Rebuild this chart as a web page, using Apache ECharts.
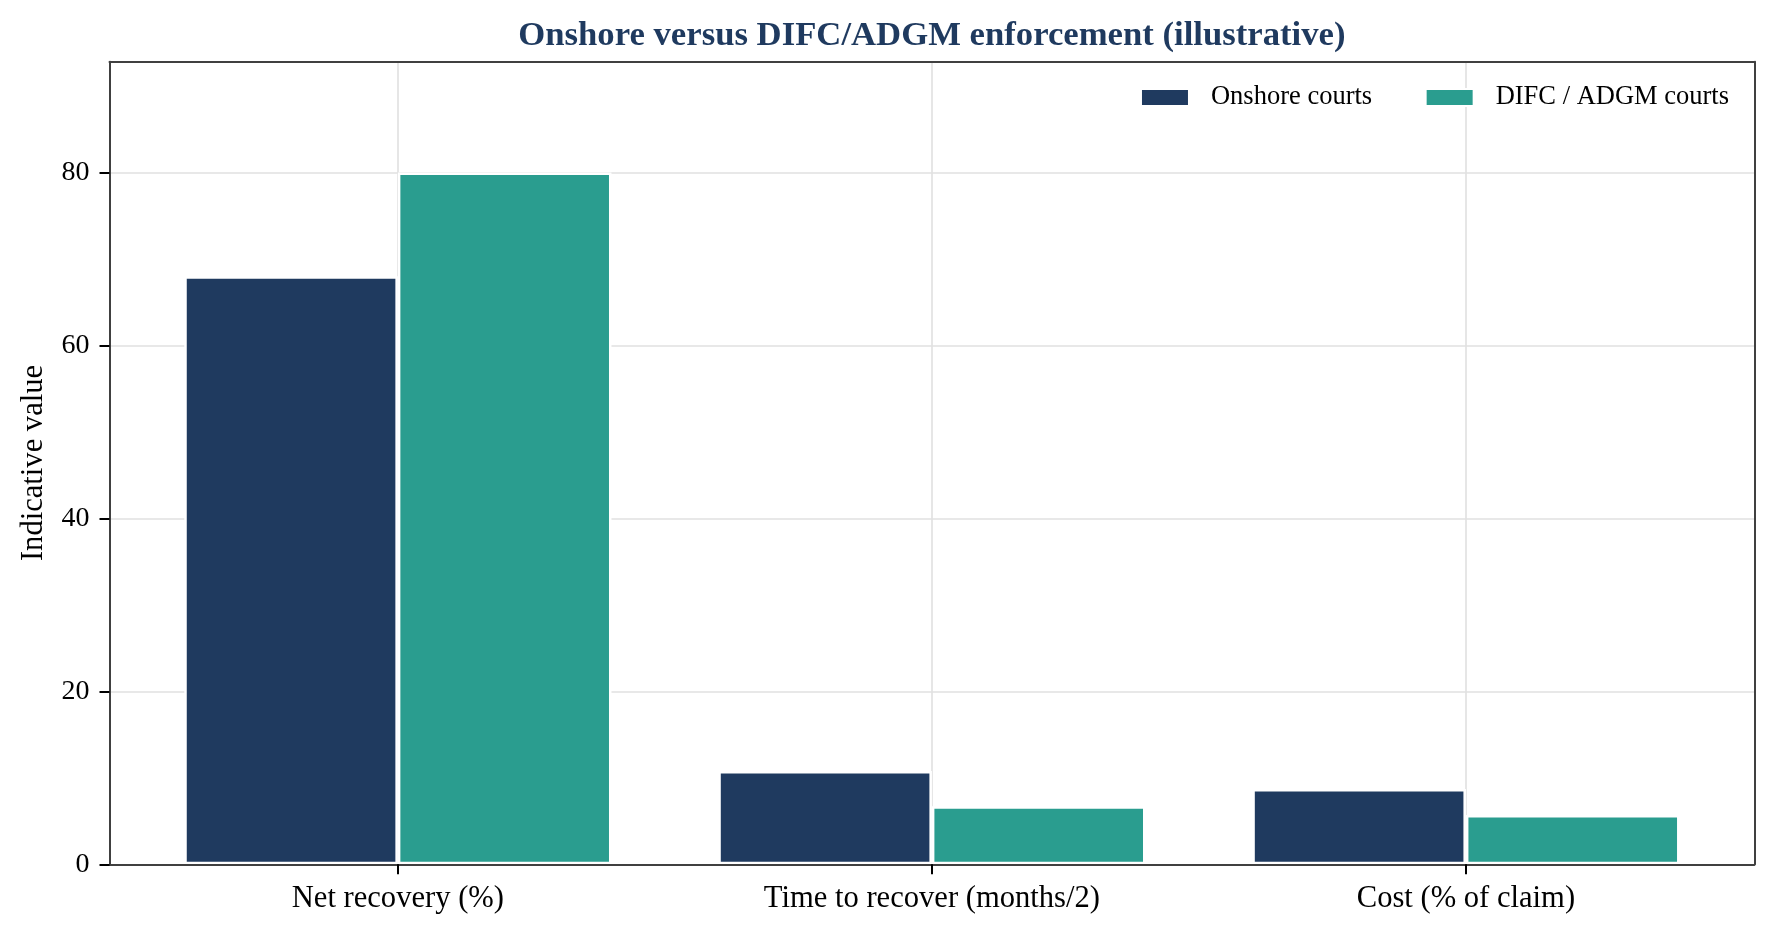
<!DOCTYPE html>
<html>
<head>
<meta charset="utf-8">
<title>Onshore versus DIFC/ADGM enforcement</title>
<script src="https://cdn.jsdelivr.net/npm/echarts@6/dist/echarts.min.js"></script>
<style>
  html, body { margin: 0; padding: 0; background: #fff; }
  #chart { width: 1774px; height: 934px; }
</style>
</head>
<body>
<div id="chart"></div>
<script>
// data
var categories = ['Net recovery (%)', 'Time to recover (months/2)', 'Cost (% of claim)'];
var onshore = [68, 10.8, 8.7];
var difc = [80, 6.7, 5.7];
var seriesNames = ['Onshore courts', 'DIFC / ADGM courts'];
var yMax = 92.8;
var yStep = 20;

var FONT = '"Liberation Serif", "Times New Roman", serif';
var NAVY = '#1f3a5f';
var TEAL = '#2a9d8f';
var FRAME = '#404040';
var TITLE = 'Onshore versus DIFC/ADGM enforcement (illustrative)';
var TITLE_SIZE = 34.7;

// frame grid, and an inner grid for the bars so the outer padding matches (0.54 of a slot)
var frame = {left: 109.5, right: 19.7, top: 61.7, bottom: 69.7};
var slot = (1774 - frame.left - frame.right) / 3.08;
var pad = slot * 0.04;

// title is centred over the plot area, not the page
var ctx = document.createElement('canvas').getContext('2d');
ctx.font = 'bold ' + TITLE_SIZE + 'px ' + FONT;
var titleW = ctx.measureText(TITLE).width;
var plotMid = frame.left + (1774 - frame.left - frame.right) / 2;

// helper slots for vertical gridlines at category centres
var gridSlots = [];
for (var i = 0; i < categories.length * 2 + 1; i++) gridSlots.push(i % 2 ? categories[(i - 1) / 2] : '');

var frameLine = {show: true, onZero: false, lineStyle: {color: FRAME, width: 2}};

var myChart = echarts.init(document.getElementById('chart'));
var option = {
    backgroundColor: '#ffffff',
    animation: false,
    title: {
        text: TITLE,
        left: plotMid - titleW / 2,
        top: 19,
        padding: 0,
        textStyle: {fontFamily: FONT, fontSize: TITLE_SIZE, fontWeight: 'bold', color: NAVY}
    },
    legend: {
        data: seriesNames,
        right: 45,
        top: 84,
        padding: 0,
        itemWidth: 48,
        itemHeight: 17,
        itemGap: 52.5,
        icon: 'rect',
        textStyle: {fontFamily: FONT, fontSize: 26.5, color: '#000', padding: [0, 0, 0, 17]}
    },
    grid: [
        {left: frame.left, right: frame.right, top: frame.top, bottom: frame.bottom},
        {left: frame.left + pad, right: frame.right + pad, top: frame.top, bottom: frame.bottom}
    ],
    xAxis: [
        // bottom frame line
        {gridIndex: 0, type: 'value', min: 0, max: 1, position: 'bottom', z: 10,
         axisLine: frameLine,
         axisTick: {show: false}, axisLabel: {show: false}, splitLine: {show: false}},
        // top frame line
        {gridIndex: 0, type: 'value', min: 0, max: 1, position: 'top', z: 10,
         axisLine: frameLine,
         axisTick: {show: false}, axisLabel: {show: false}, splitLine: {show: false}},
        // categories
        {gridIndex: 1, type: 'category', data: categories, position: 'bottom', z: 10,
         axisLine: {show: false, onZero: false},
         axisTick: {show: true, alignWithLabel: true, length: 10, lineStyle: {color: '#000', width: 2}},
         axisLabel: {fontFamily: FONT, fontSize: 30.6, color: '#000', margin: 19.5},
         splitLine: {show: false}},
        // vertical gridlines
        {gridIndex: 1, type: 'category', data: gridSlots, boundaryGap: false,
         axisLine: {show: false, onZero: false}, axisTick: {show: false}, axisLabel: {show: false},
         splitLine: {show: true, interval: function (idx) { return idx % 2 === 1; },
                     lineStyle: {color: '#e0e0e0', width: 1.6}}}
    ],
    yAxis: [
        // horizontal gridlines (behind bars)
        {gridIndex: 0, type: 'value', min: 0, max: yMax, interval: yStep,
         axisLine: {show: false, onZero: false}, axisTick: {show: false}, axisLabel: {show: false},
         splitLine: {show: true, showMaxLine: false, lineStyle: {color: '#e0e0e0', width: 1.6}}},
        // left axis with labels
        {gridIndex: 0, type: 'value', min: 0, max: yMax, interval: yStep, position: 'left', z: 10,
         name: 'Indicative value', nameLocation: 'middle', nameGap: 60.5,
         nameTextStyle: {fontFamily: FONT, fontSize: 30.6, color: '#000'},
         axisLine: frameLine,
         axisTick: {show: true, length: 10, lineStyle: {color: '#000', width: 2}},
         axisLabel: {fontFamily: FONT, fontSize: 28, color: '#000', margin: 20, showMaxLabel: false},
         splitLine: {show: false}},
        // right frame line
        {gridIndex: 0, type: 'value', min: 0, max: yMax, position: 'right', z: 10,
         axisLine: frameLine,
         axisTick: {show: false}, axisLabel: {show: false}, splitLine: {show: false}},
        // bar axis
        {gridIndex: 1, type: 'value', min: 0, max: yMax, show: false}
    ],
    series: [
        {
            name: seriesNames[0], type: 'bar', data: onshore,
            xAxisIndex: 2, yAxisIndex: 3,
            barWidth: '40%', barGap: '0%',
            itemStyle: {color: NAVY, borderColor: '#ffffff', borderWidth: 2.5}
        },
        {
            name: seriesNames[1], type: 'bar', data: difc,
            xAxisIndex: 2, yAxisIndex: 3,
            barWidth: '40%', barGap: '0%',
            itemStyle: {color: TEAL, borderColor: '#ffffff', borderWidth: 2.5}
        }
    ]
};
myChart.setOption(option);
</script>
</body>
</html>
